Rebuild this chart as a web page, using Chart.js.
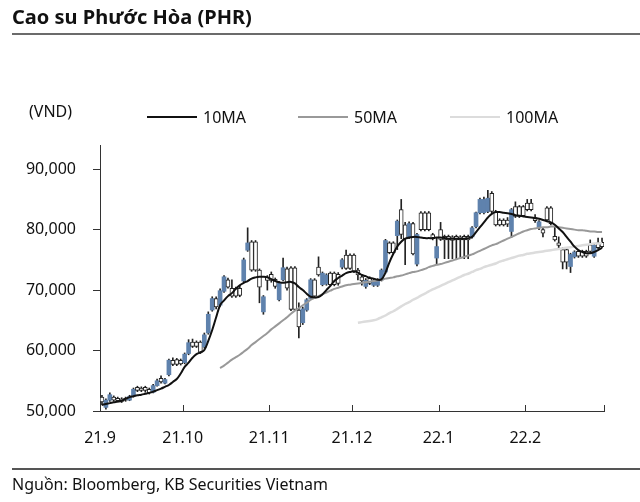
<!DOCTYPE html>
<html>
<head>
<meta charset="utf-8">
<title>Cao su Phước Hòa (PHR)</title>
<style>
    body {
        margin: 0;
        width: 640px;
        height: 502px;
        position: relative;
        overflow: hidden;
        background: #fff;
        font-family: "Noto Sans", sans-serif;
        color: #111;
    }
    #chart { position: absolute; left: 0; top: 0; }
    .title { position: absolute; left: 12px; top: 3px; font-size: 20px; font-weight: 700; }
    .rule { position: absolute; left: 12px; right: 0; height: 2px; background: #6b6b6b; }
    .unit { position: absolute; left: 29px; top: 100px; font-size: 16px; }
    .item { position: absolute; top: 106px; font-size: 16px; display: flex; align-items: center; }
    .item i { display: inline-block; width: 50px; height: 2.5px; margin-right: 6px; }
    .source { position: absolute; left: 12px; top: 473px; font-size: 16px; }
</style>
<script src="https://cdn.jsdelivr.net/npm/chart.js"></script>
</head>
<body>
    <canvas id="chart" width="640" height="502"></canvas>
    <div class="title">Cao su Phước Hòa (PHR)</div>
    <div class="rule" style="top:33px"></div>
    <div class="unit">(VND)</div>
    <div class="item" style="left:147px"><i style="background:#111"></i>10MA</div>
    <div class="item" style="left:298px"><i style="background:#999"></i>50MA</div>
    <div class="item" style="left:450px"><i style="background:#dcdcdc"></i>100MA</div>
    <div class="rule" style="top:468px; height:1.5px; background:#555"></div>
    <div class="source">Nguồn: Bloomberg, KB Securities Vietnam</div>

    <script>
        // x axis: trading-day index, month starts
        const tickPos = [0, 21, 43, 64, 86, 108, 128];
        const tickLabels = ['21.9', '21.10', '21.11', '21.12', '22.1', '22.2', ''];
        const yTicks = [50000, 60000, 70000, 80000, 90000];

        // daily prices (VND), Sep 2021 - Feb 2022
        const opens = [
            52300, 50600, 51800, 52300, 52100, 52000, 52100, 51800, 52400, 53900, 53800, 53900, 53600, 53100, 54200, 55400, 54600, 56000, 58400, 58500, 58400,
            58000, 59500, 61400, 61400, 61400, 60600, 62900, 66700, 68600, 67500, 69800, 71700, 70300, 70300, 70300, 71500, 76600, 78000, 78000, 73300, 66400, 72200,
            72600, 71800, 68400, 71700, 73500, 73700, 73700, 66700, 64600, 66700, 68600, 71700, 73800, 70900, 71000, 72800, 72800, 72600, 73800, 75800, 75800,
            75800, 73300, 72200, 70600, 72000, 70800, 70800, 71700, 73000, 77800, 77800, 79000, 83300, 80800, 78700, 81000, 74300, 82800, 82800, 82800, 79200, 75300,
            80000, 78900, 78900, 78800, 78900, 78800, 78900, 78900, 78800, 80500, 82800, 82800, 83000, 86000, 83000, 81600, 81600, 81600, 79700, 83800, 83800, 83800,
            84400, 84400, 82000, 80300, 80000, 83600, 83600, 78900, 77800, 76700, 76700, 73900, 75500, 76400, 76400, 76400, 77500, 75600, 77800, 77900
        ];
        const highs = [
            52600, 52000, 53000, 52500, 52300, 52200, 52300, 52600, 53800, 54100, 54000, 54100, 53800, 54400, 55300, 55800, 55400, 58600, 58800, 58700, 58600,
            59600, 61800, 61900, 61600, 61600, 62900, 66400, 68900, 68900, 70200, 72400, 72000, 71700, 70500, 70800, 75300, 80300, 78200, 78200, 73500, 69100, 72400,
            73000, 72000, 71400, 75300, 73800, 73900, 73900, 67900, 67200, 68600, 71900, 71900, 75500, 73000, 72700, 73000, 73000, 72900, 75200, 76600, 76000,
            76000, 73600, 72400, 71900, 72200, 71800, 71900, 73500, 78400, 78000, 78000, 81600, 85000, 81200, 81300, 81200, 79400, 83000, 83000, 83000, 79400, 78600,
            81200, 79100, 79100, 79000, 79100, 79000, 79100, 79100, 80500, 82900, 85200, 85400, 86500, 86300, 83200, 81800, 81800, 82000, 83500, 84600, 84000, 84000,
            85000, 85000, 82500, 81500, 80200, 83800, 83800, 80400, 78800, 77000, 77000, 76100, 76500, 76600, 76600, 76600, 78300, 77600, 78600, 78600
        ];
        const lows = [
            51000, 50300, 51600, 51600, 51500, 51400, 51600, 51700, 52300, 53200, 53200, 53100, 52800, 53000, 54100, 54600, 54500, 55800, 57500, 57500, 57600,
            57800, 59300, 60500, 60500, 59500, 60400, 62700, 66500, 66900, 67300, 69600, 70300, 68800, 68800, 68900, 71300, 76400, 73100, 73100, 67900, 66000, 70000,
            71300, 70300, 68200, 71500, 70000, 66600, 66600, 62100, 64300, 66500, 68400, 68800, 72300, 70700, 70800, 70700, 70700, 70800, 73500, 73400, 73400,
            72900, 71700, 70800, 70300, 70900, 70600, 70600, 71500, 72800, 76000, 76000, 76700, 78500, 74200, 78500, 75800, 74000, 79800, 79800, 79800, 78300, 74200,
            78200, 75200, 75200, 75200, 75200, 75200, 75200, 75200, 78600, 80300, 82600, 82600, 82800, 82800, 80600, 80600, 80600, 80500, 78700, 82000, 82000, 82100,
            83100, 83100, 81200, 80000, 78800, 81400, 80800, 78100, 77000, 73500, 73500, 72900, 75300, 75400, 75400, 75400, 76200, 75400, 76800, 77000
        ];
        const closes = [
            51500, 51800, 52700, 51800, 51700, 51600, 51800, 52400, 53600, 53400, 53400, 53400, 53000, 54200, 55000, 54800, 55200, 58400, 57700, 57700, 57800,
            59400, 61300, 60700, 60700, 59700, 62600, 66000, 68600, 67200, 69900, 72200, 70500, 69000, 69000, 69100, 75000, 77800, 73300, 73300, 70500, 68900, 71600,
            71600, 70600, 71100, 73700, 70300, 66800, 66800, 63900, 66900, 68400, 71700, 69000, 72500, 72800, 72500, 70900, 70900, 71100, 75000, 73600, 73600,
            73100, 72500, 71500, 71600, 71100, 71600, 71700, 73300, 78200, 76200, 76200, 81400, 79200, 78500, 81000, 76000, 79200, 80000, 80000, 80000, 78500, 77200,
            78400, 78300, 78300, 78200, 78300, 78300, 78300, 78300, 80300, 82800, 85000, 85000, 85200, 83000, 80800, 80800, 80800, 80900, 83300, 82200, 82200, 82300,
            83300, 83300, 81500, 81300, 79400, 81600, 81000, 78300, 77400, 74600, 74600, 75900, 76300, 75600, 75600, 75600, 76400, 77400, 77000, 77200
        ];

        // moving averages
        const ma10 = [
            51000, 51160, 51300, 51450, 51550, 51700, 52000, 52300, 52450, 52600, 52700, 52850, 53000, 53200, 53450, 53700, 54000, 54300, 54800, 55300, 56200,
            57300, 58000, 58800, 59400, 59700, 60100, 61600, 63400, 65500, 67500, 68300, 69000, 69500, 70200, 70800, 71200, 71500, 71900, 72100, 72200, 72200, 72100,
            71800, 71500, 71300, 71200, 71300, 71350, 71100, 70500, 70000, 69400, 68900, 68800, 68850, 69300, 70000, 70700, 71500, 72000, 72400, 72800, 73000,
            73100, 72900, 72500, 72300, 72000, 71900, 71700, 71800, 72900, 74600, 76000, 77200, 78000, 78500, 78700, 78800, 78800, 78700, 78600, 78600, 78600, 78700,
            78700, 78600, 78500, 78500, 78500, 78500, 78500, 78600, 78800, 79600, 80400, 81200, 82000, 82600, 82900, 82900, 82800, 82700, 82600, 82400, 82300, 82200,
            82100, 82000, 81900, 81800, 81600, 81400, 81200, 80800, 80200, 79600, 78800, 78000, 77200, 76600, 76300, 76100, 76100, 76300, 76600, 77000
        ];
        const ma50Start = 30;
        const ma50 = [
            57100, 57500, 58000, 58500, 58900, 59300, 59800, 60300, 60900, 61400, 61900, 62400, 62900,
            63500, 64000, 64500, 65000, 65500, 66100, 66600, 67000, 67500, 67900, 68400, 68700, 69000, 69300, 69600, 69900, 70200, 70400, 70600, 70800, 70900,
            71000, 71100, 71200, 71300, 71400, 71500, 71600, 71700, 71900, 72000, 72100, 72300, 72400, 72600, 72800, 73000, 73100, 73300, 73500, 73800, 74000, 74200,
            74300, 74500, 74700, 74900, 75100, 75300, 75500, 75700, 75900, 76200, 76500, 76800, 77100, 77400, 77600, 77900, 78200, 78500, 78800, 79100, 79400, 79700,
            79900, 80100, 80200, 80300, 80400, 80400, 80500, 80500, 80400, 80300, 80200, 80100, 80000, 79900, 79900, 79800, 79700, 79700, 79600, 79600
        ];
        const ma100Start = 65;
        const ma100 = [
            64600, 64700, 64800, 64900, 65000, 65200, 65500, 65800, 66200, 66500, 66900, 67300, 67700, 68000, 68400, 68700, 69100, 69400, 69800, 70100, 70400,
            70700, 71000, 71300, 71600, 71900, 72200, 72500, 72700, 73000, 73300, 73500, 73800, 74000, 74200, 74400, 74700, 74900, 75100, 75300, 75500, 75700, 75800,
            76000, 76100, 76200, 76300, 76400, 76500, 76600, 76700, 76800, 76900, 77000, 77100, 77200, 77300, 77400, 77500, 77600, 77700, 77700, 77800
        ];

        const upColor = '#5f82ad';
        const axisColor = '#333';
        const font = { family: 'Noto Sans', size: 16 };

        const isDown = i => closes[i] < opens[i];
        const linePoints = (arr, start) => arr.map((v, k) => ({ x: start + k + 0.5, y: v }));

        // x ticks drawn upward into the plot, like the original
        const innerTicks = {
            id: 'innerTicks',
            afterDraw(chart) {
                const { ctx, chartArea } = chart;
                const x = chart.scales.x;
                ctx.save();
                ctx.strokeStyle = axisColor;
                ctx.lineWidth = 1;
                tickPos.forEach(v => {
                    if (v === 0) return;
                    const px = Math.round(x.getPixelForValue(v)) + 0.5;
                    ctx.beginPath();
                    ctx.moveTo(px, chartArea.bottom);
                    ctx.lineTo(px, chartArea.bottom - 6);
                    ctx.stroke();
                });
                ctx.restore();
            }
        };

        new Chart(document.getElementById('chart'), {
            type: 'bar',
            data: {
                datasets: [
                    {
                        type: 'line', label: '10MA', data: linePoints(ma10, 0),
                        borderColor: '#111', borderWidth: 2, pointRadius: 0, tension: 0.4, order: 0
                    },
                    {
                        type: 'line', label: '50MA', data: linePoints(ma50, ma50Start),
                        borderColor: '#999', borderWidth: 2, pointRadius: 0, tension: 0.4, order: 1
                    },
                    {
                        type: 'line', label: '100MA', data: linePoints(ma100, ma100Start),
                        borderColor: '#dcdcdc', borderWidth: 2.5, pointRadius: 0, tension: 0.4, order: 1
                    },
                    {
                        type: 'bar', label: 'body',
                        data: opens.map((o, i) => ({ x: i + 0.5, y: [o, closes[i]] })),
                        backgroundColor: c => isDown(c.dataIndex) ? '#fff' : upColor,
                        borderColor: '#222',
                        borderWidth: c => isDown(c.dataIndex) ? 1 : 0,
                        borderSkipped: false,
                        barThickness: 4, grouped: false, order: 2
                    },
                    {
                        type: 'bar', label: 'wick',
                        data: lows.map((l, i) => ({ x: i + 0.5, y: [l, highs[i]] })),
                        backgroundColor: '#222',
                        barThickness: 1, grouped: false, order: 3
                    }
                ]
            },
            options: {
                responsive: false,
                animation: false,
                devicePixelRatio: 1,
                layout: { padding: { top: 145, right: 36, bottom: 51, left: 0 } },
                plugins: { legend: { display: false }, tooltip: { enabled: false } },
                scales: {
                    x: {
                        type: 'linear', min: 0, max: 128, offset: false,
                        grid: { drawOnChartArea: false, drawTicks: false, offset: false },
                        border: { color: axisColor, width: 1 },
                        afterBuildTicks: s => { s.ticks = tickPos.map(v => ({ value: v })); },
                        afterFit: s => { s.height = 40; },
                        ticks: {
                            autoSkip: false, maxRotation: 0, padding: 18, color: '#111', font: font,
                            callback: (v, i) => tickLabels[i]
                        }
                    },
                    y: {
                        min: 50000, max: 94000,
                        grid: { drawOnChartArea: false, tickLength: 7, tickColor: axisColor },
                        border: { color: axisColor, width: 1 },
                        afterBuildTicks: s => { s.ticks = yTicks.map(v => ({ value: v })); },
                        afterFit: s => { s.width = 100; },
                        ticks: {
                            padding: 17, color: '#111', font: font,
                            callback: v => v.toLocaleString('en-US')
                        }
                    }
                }
            },
            plugins: [innerTicks]
        });
    </script>
</body>
</html>
